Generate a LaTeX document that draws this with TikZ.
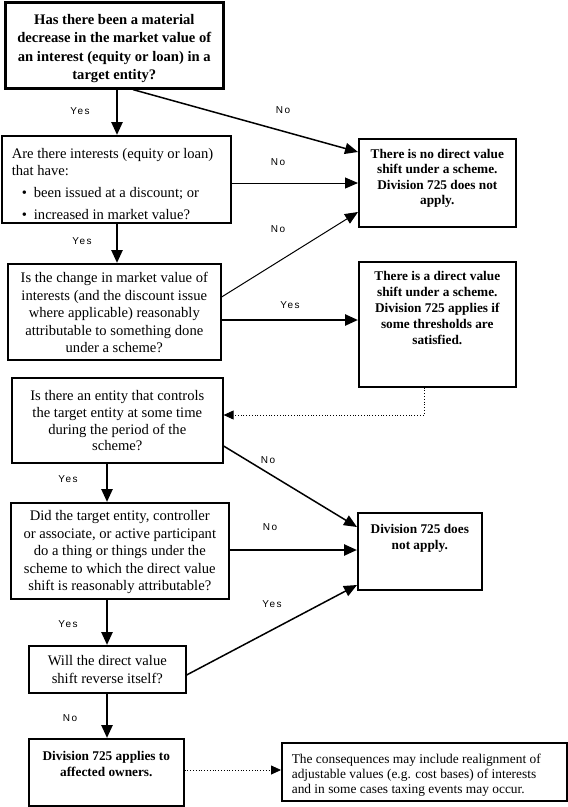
\documentclass[tikz,border=0pt]{standalone}
\usepackage{fontspec}
\setmainfont{Liberation Serif}
\newfontfamily\lblfont[LetterSpace=15]{Liberation Sans}
\usetikzlibrary{arrows.meta}
\newcommand\bxtext[4]{\begin{minipage}[c][#2][t]{#1}\vspace*{#3}#4\end{minipage}}
\tikzset{
  box/.style={draw, line width=1.6pt, inner sep=0pt, anchor=north west},
  regtxt/.style={font=\fontsize{14.6}{17.5}\selectfont},
  boldtxt/.style={font=\bfseries\fontsize{13.3}{15.5}\selectfont},
  lbl/.style={font=\lblfont\fontsize{10}{12}\selectfont, inner sep=0pt},
  tip/.style={-{Triangle[length=13pt,width=11pt]}},
  thickarr/.style={tip, line width=2.5pt},
  medarr/.style={tip, line width=1.5pt},
  thinarr/.style={tip, line width=1pt},
  dotarr/.style={-{Triangle[length=10pt,width=9pt]}, line width=0.8pt, dotted}
}
\begin{document}
\begin{tikzpicture}[x=1pt,y=-1pt]
\useasboundingbox (0,0) rectangle (568,807);
% boxes
\node[box, line width=2.6pt, font=\bfseries\fontsize{14.6}{18.3}\selectfont] (b1) at (4,1)
  {\bxtext{218pt}{86pt}{9.3pt}{\centering\strut Has there been a material\\decrease in the market value of\\an interest (equity or loan) in a\\target entity?}};
\node[box, regtxt] (b2) at (1,135)
  {\bxtext{229pt}{87pt}{10pt}{\raggedright\strut\hspace*{10pt}Are there interests (equity or loan)\\
   \hspace*{10pt}that have:\\[4pt]
   \hspace*{20pt}\textbullet\hspace{7pt}been issued at a discount; or\\[5pt]
   \hspace*{20pt}\textbullet\hspace{7pt}increased in market value?}};
\node[box, boldtxt] (b3) at (358,138)
  {\bxtext{157pt}{88pt}{8.7pt}{\centering\strut There is no direct value\\shift under a scheme.\\Division 725 does not\\apply.}};
\node[box, regtxt] (b4) at (7,263)
  {\bxtext{213pt}{96pt}{6.6pt}{\centering\strut Is the change in market value of\\interests (and the discount issue\\where applicable) reasonably\\attributable to something done\\under a scheme?}};
\node[box, boldtxt, font=\bfseries\fontsize{13.3}{16}\selectfont] (b5) at (358,261)
  {\bxtext{157pt}{125pt}{7.3pt}{\centering\strut There is a direct value\\shift under a scheme.\\Division 725 applies if\\some thresholds are\\satisfied.}};
\node[box, regtxt, font=\fontsize{14.6}{16.7}\selectfont] (b6) at (11,377)
  {\bxtext{211pt}{85pt}{11.2pt}{\centering\strut Is there an entity that controls\\the target entity at some time\\during the period of the\\scheme?}};
\node[box, regtxt] (b7) at (10,502)
  {\bxtext{218pt}{96pt}{5.6pt}{\centering\strut Did the target entity, controller\\or associate, or active participant\\do a thing or things under the\\scheme to which the direct value\\shift is reasonably attributable?}};
\node[box, boldtxt, font=\bfseries\fontsize{13.3}{16}\selectfont] (b8) at (357,512)
  {\bxtext{124pt}{77pt}{9.3pt}{\centering\strut Division 725 does\\not apply.}};
\node[box, regtxt] (b9) at (28,645)
  {\bxtext{157pt}{47pt}{7.6pt}{\centering\strut Will the direct value\\shift reverse itself?}};
\node[box, boldtxt, font=\bfseries\fontsize{13.3}{16.5}\selectfont] (b10) at (28,738)
  {\bxtext{155pt}{67pt}{10pt}{\centering\strut Division 725 applies to\\affected owners.}};
\node[box, font=\fontsize{13.4}{15}\selectfont] (b11) at (281,742)
  {\bxtext{285pt}{58pt}{9.9pt}{\raggedright\strut\hspace*{10pt}The consequences may include realignment of\\
   \hspace*{10pt}adjustable values (e.g. cost bases) of interests\\
   \hspace*{10pt}and in some cases taxing events may occur.}};
% connectors
\draw[thickarr] (117,0 |- b1.south) -- (117,0 |- b2.north);
\node[lbl] (l1) at (80,111) {Yes};
\draw[medarr] (133,0 |- b1.south) -- (b3.west |- 0,152);
\node[lbl] (l2) at (283,110) {No};
\draw[thinarr] (b2.east |- 0,183) -- (b3.west |- 0,183);
\node[lbl] (l3) at (278,162) {No};
\draw[thickarr] (117,0 |- b2.south) -- (117,0 |- b4.north);
\node[lbl] (l4) at (82,241) {Yes};
\draw[thinarr] (b4.east |- 0,297) -- (b3.west |- 0,212);
\node[lbl] (l5) at (278,229) {No};
\draw[thickarr] (b4.east |- 0,320) -- (b5.west |- 0,320);
\node[lbl] (l6) at (290,305) {Yes};
\draw[dotarr] (424,0 |- b5.south) |- (b6.east |- 0,415);
\draw[medarr] (b6.east |- 0,446) -- (b8.west |- 0,527);
\node[lbl] (l7) at (268,460) {No};
\draw[thickarr] (107,0 |- b6.south) -- (107,0 |- b7.north);
\node[lbl] (l8) at (68,479) {Yes};
\draw[thickarr] (b7.east |- 0,550) -- (b8.west |- 0,550);
\node[lbl] (l9) at (270,527) {No};
\draw[thickarr] (107,0 |- b7.south) -- (107,0 |- b9.north);
\node[lbl] (l10) at (68,624) {Yes};
\draw[medarr] (b9.east |- 0,675) -- (b8.west |- 0,585);
\node[lbl] (l11) at (272,604) {Yes};
\draw[thickarr] (107,0 |- b9.south) -- (107,0 |- b10.north);
\node[lbl] (l12) at (70,718) {No};
\draw[dotarr] (b10.east |- 0,770) -- (b11.west |- 0,770);
\end{tikzpicture}
\end{document}
